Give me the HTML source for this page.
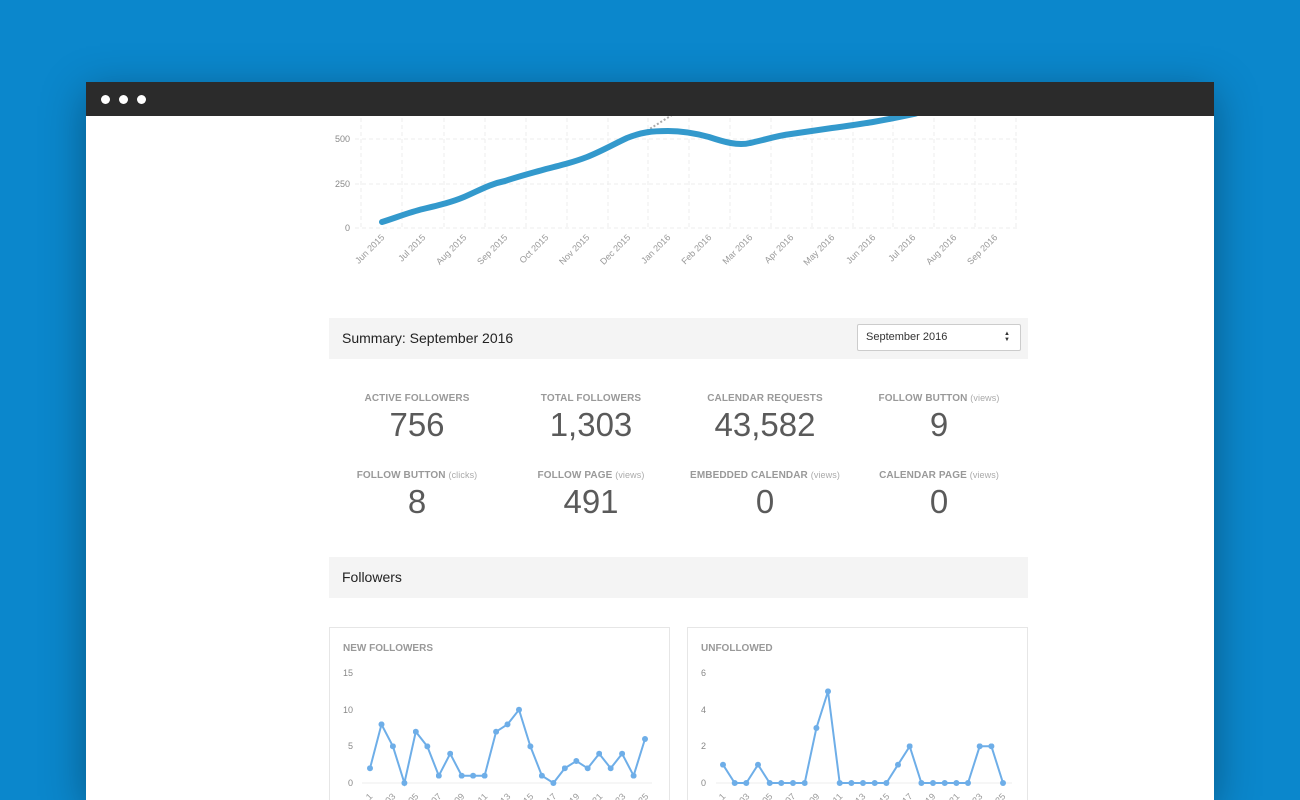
<!DOCTYPE html>
<html><head><meta charset="utf-8"><style>
html,body{margin:0;width:1300px;height:800px;overflow:hidden}
body{background:#0b87cc;font-family:"Liberation Sans",sans-serif;position:relative}
.win{position:absolute;left:86px;top:82px;width:1128px;height:718px;background:#fff;box-shadow:0 10px 40px rgba(0,0,0,.35)}
.bar{height:34px;background:#2b2b2b;position:relative}
.dot{position:absolute;top:13px;width:9px;height:9px;border-radius:50%;background:#fff}
.hdr{position:absolute;left:329px;width:699px;height:41px;background:#f4f4f4;font-size:14px;color:#222;box-sizing:border-box;padding-left:13px;line-height:41px}
.sel{position:absolute;left:857px;top:324px;width:164px;height:27px;border:1px solid #ccc;box-sizing:border-box;border-radius:2px;background:#fff;font-size:11px;line-height:25px;padding-left:8px;color:#333}
.st{position:absolute;width:200px;text-align:center;color:#555}
.st .l{font-size:10px;font-weight:bold;color:#999;letter-spacing:.1px}
.st .l span{font-weight:normal;font-size:9px;color:#aaa}
.st .n{font-size:33px;color:#5a5a5a;margin-top:3px;line-height:36px}
.card{position:absolute;top:627px;width:341px;height:173px;border:1px solid #e6e6e6;border-bottom:none;box-sizing:border-box}
.ct{position:absolute;font-size:10px;font-weight:bold;color:#999;top:643px}
</style></head><body>
<div class="win"><div class="bar"><div class="dot" style="left:15px"></div><div class="dot" style="left:33px"></div><div class="dot" style="left:51px"></div></div></div>
<svg width="1300" height="800" style="position:absolute;left:0;top:0" font-family="Liberation Sans, sans-serif">
<defs><clipPath id="c"><rect x="86" y="116" width="1128" height="684"/></clipPath>
<marker id="m" markerWidth="6" markerHeight="6" refX="3" refY="3" markerUnits="userSpaceOnUse"><circle cx="3" cy="3" r="3" fill="#6eaee8"/></marker></defs>
<g clip-path="url(#c)">
<g stroke="#eee" stroke-dasharray="4,3" stroke-width="1">
<line x1="355" y1="228" x2="1018" y2="228"/><line x1="355" y1="184" x2="1018" y2="184"/><line x1="355" y1="139" x2="1018" y2="139"/><line x1="355" y1="95" x2="1018" y2="95"/>
<line x1="361" y1="90" x2="361" y2="230"/><line x1="402" y1="90" x2="402" y2="230"/><line x1="444" y1="90" x2="444" y2="230"/><line x1="485" y1="90" x2="485" y2="230"/><line x1="526" y1="90" x2="526" y2="230"/><line x1="567" y1="90" x2="567" y2="230"/><line x1="608" y1="90" x2="608" y2="230"/><line x1="648" y1="90" x2="648" y2="230"/><line x1="689" y1="90" x2="689" y2="230"/><line x1="730" y1="90" x2="730" y2="230"/><line x1="771" y1="90" x2="771" y2="230"/><line x1="812" y1="90" x2="812" y2="230"/><line x1="853" y1="90" x2="853" y2="230"/><line x1="893" y1="90" x2="893" y2="230"/><line x1="934" y1="90" x2="934" y2="230"/><line x1="975" y1="90" x2="975" y2="230"/><line x1="1016" y1="90" x2="1016" y2="230"/>
</g>
<g font-size="9" fill="#888" text-anchor="end"><text x="350" y="231">0</text><text x="350" y="187">250</text><text x="350" y="142">500</text></g>
<line x1="640" y1="135" x2="672" y2="115" stroke="#aaa" stroke-width="2" stroke-dasharray="2,2"/>
<path d="M382,222 C395,218 410,212 423,209 C440,205 452,202 464,197 C480,190 490,184 505,181 C520,176 532,173 546,169 C562,165 574,162 587,157 C602,151 614,144 627,138 C642,132 652,131 668,131 C685,131 698,134 709,137 C724,142 738,146 750,143 C765,140 775,136 791,134 C805,132 818,130 832,128 C848,126 860,124 873,122 C890,119 900,117 914,114 C925,111 935,106 945,100" fill="none" stroke="#3399cc" stroke-width="6" stroke-linecap="round"/>
<g font-size="9" fill="#999" text-anchor="end">
<text transform="translate(385,238) rotate(-45)">Jun 2015</text><text transform="translate(426,238) rotate(-45)">Jul 2015</text><text transform="translate(467,238) rotate(-45)">Aug 2015</text><text transform="translate(508,238) rotate(-45)">Sep 2015</text><text transform="translate(549,238) rotate(-45)">Oct 2015</text><text transform="translate(590,238) rotate(-45)">Nov 2015</text><text transform="translate(631,238) rotate(-45)">Dec 2015</text><text transform="translate(671,238) rotate(-45)">Jan 2016</text><text transform="translate(712,238) rotate(-45)">Feb 2016</text><text transform="translate(753,238) rotate(-45)">Mar 2016</text><text transform="translate(794,238) rotate(-45)">Apr 2016</text><text transform="translate(835,238) rotate(-45)">May 2016</text><text transform="translate(876,238) rotate(-45)">Jun 2016</text><text transform="translate(916,238) rotate(-45)">Jul 2016</text><text transform="translate(957,238) rotate(-45)">Aug 2016</text><text transform="translate(998,238) rotate(-45)">Sep 2016</text>
</g>
</g>
</svg>
<div class="hdr" style="top:318px">Summary: September 2016</div>
<div class="sel">September 2016<span style="position:absolute;right:10px;top:6px;font-size:6px;line-height:6px">&#9650;<br>&#9660;</span></div>
<div class="st" style="left:317px;top:393px"><div class="l">ACTIVE FOLLOWERS</div><div class="n">756</div></div>
<div class="st" style="left:491px;top:393px"><div class="l">TOTAL FOLLOWERS</div><div class="n">1,303</div></div>
<div class="st" style="left:665px;top:393px"><div class="l">CALENDAR REQUESTS</div><div class="n">43,582</div></div>
<div class="st" style="left:839px;top:393px"><div class="l">FOLLOW BUTTON <span>(views)</span></div><div class="n">9</div></div>
<div class="st" style="left:317px;top:470px"><div class="l">FOLLOW BUTTON <span>(clicks)</span></div><div class="n">8</div></div>
<div class="st" style="left:491px;top:470px"><div class="l">FOLLOW PAGE <span>(views)</span></div><div class="n">491</div></div>
<div class="st" style="left:665px;top:470px"><div class="l">EMBEDDED CALENDAR <span>(views)</span></div><div class="n">0</div></div>
<div class="st" style="left:839px;top:470px"><div class="l">CALENDAR PAGE <span>(views)</span></div><div class="n">0</div></div>
<div class="hdr" style="top:557px">Followers</div>
<div class="card" style="left:329px"></div><div class="card" style="left:687px"></div>
<div class="ct" style="left:343px">NEW FOLLOWERS</div><div class="ct" style="left:701px">UNFOLLOWED</div>
<svg width="1300" height="800" style="position:absolute;left:0;top:0" font-family="Liberation Sans, sans-serif">
<g font-size="9" fill="#888" text-anchor="end">
<text x="353" y="676">15</text><text x="353" y="713">10</text><text x="353" y="749">5</text><text x="353" y="786">0</text>
<text x="706" y="676">6</text><text x="706" y="713">4</text><text x="706" y="749">2</text><text x="706" y="786">0</text></g>
<line x1="362" y1="783" x2="652" y2="783" stroke="#eee"/><line x1="716" y1="783" x2="1012" y2="783" stroke="#eee"/>
<polyline fill="none" stroke="#6eaee8" stroke-width="2" marker-start="url(#m)" marker-mid="url(#m)" marker-end="url(#m)" points="370,768.3 381.5,724.4 392.9,746.3 404.4,783 415.8,731.7 427.3,746.4 438.8,775.7 450.2,753.7 461.7,775.7 473.1,775.7 484.6,775.7 496.1,731.7 507.5,724.4 519,709.7 530.4,746.4 541.9,775.7 553.4,783 564.8,768.3 576.3,761 587.7,768.3 599.2,753.7 610.7,768.3 622.1,753.7 633.6,775.7 645,739"/>
<polyline fill="none" stroke="#6eaee8" stroke-width="2" marker-start="url(#m)" marker-mid="url(#m)" marker-end="url(#m)" points="723,764.7 734.7,783 746.3,783 758,764.7 769.7,783 781.3,783 793,783 804.7,783 816.4,728 828,691.4 839.7,783 851.4,783 863,783 874.7,783 886.4,783 898,764.7 909.7,746.3 921.4,783 933,783 944.7,783 956.4,783 968,783 979.7,746.3 991.4,746.3 1003,783"/>
<g font-size="9" fill="#999" text-anchor="end">
<text transform="translate(373,797) rotate(-45)">1</text><text transform="translate(396,797) rotate(-45)">03</text><text transform="translate(419,797) rotate(-45)">05</text><text transform="translate(442,797) rotate(-45)">07</text><text transform="translate(465,797) rotate(-45)">09</text><text transform="translate(488,797) rotate(-45)">11</text><text transform="translate(511,797) rotate(-45)">13</text><text transform="translate(534,797) rotate(-45)">15</text><text transform="translate(557,797) rotate(-45)">17</text><text transform="translate(580,797) rotate(-45)">19</text><text transform="translate(603,797) rotate(-45)">21</text><text transform="translate(626,797) rotate(-45)">23</text><text transform="translate(649,797) rotate(-45)">25</text>
<text transform="translate(726,797) rotate(-45)">1</text><text transform="translate(750,797) rotate(-45)">03</text><text transform="translate(773,797) rotate(-45)">05</text><text transform="translate(796,797) rotate(-45)">07</text><text transform="translate(820,797) rotate(-45)">09</text><text transform="translate(843,797) rotate(-45)">11</text><text transform="translate(866,797) rotate(-45)">13</text><text transform="translate(890,797) rotate(-45)">15</text><text transform="translate(913,797) rotate(-45)">17</text><text transform="translate(936,797) rotate(-45)">19</text><text transform="translate(960,797) rotate(-45)">21</text><text transform="translate(983,797) rotate(-45)">23</text><text transform="translate(1006,797) rotate(-45)">25</text>
</g>
</svg>
</body></html>
